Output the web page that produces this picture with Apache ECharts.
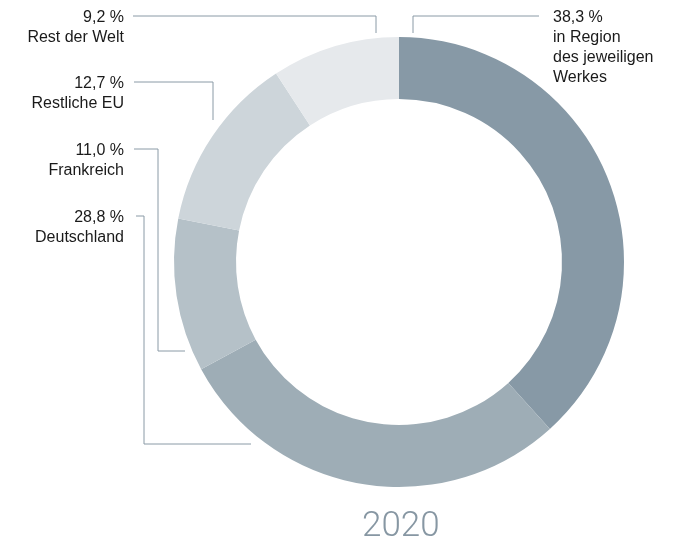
<!DOCTYPE html>
<html>
<head>
<meta charset="utf-8">
<script src="https://cdn.jsdelivr.net/npm/echarts@6/dist/echarts.min.js"></script>
<style>html,body{margin:0;padding:0;background:#fff}#c{width:679px;height:544px}</style>
</head>
<body>
<div id="c"></div>
<script>
const categories = ['in Region\ndes jeweiligen\nWerkes', 'Deutschland', 'Frankreich', 'Restliche EU', 'Rest der Welt'];
const shares = [38.3, 28.8, 11.0, 12.7, 9.2];
const yearLabel = '2020';

const colors = ['#8799a6', '#9eadb6', '#b5c1c8', '#cdd5da', '#e6e9ec'];
// label placement and leader-line routing (annotation layout)
const labelPos = [
  {x: 553, y: 8, align: 'left', line: [[539,16],[413,16],[413,33]]},
  {x: 124, y: 208, align: 'right', line: [[136,216],[144,216],[144,444],[251,444]]},
  {x: 124, y: 141, align: 'right', line: [[134,149],[158,149],[158,351],[185,351]]},
  {x: 124, y: 74, align: 'right', line: [[134,82],[213,82],[213,120]]},
  {x: 124, y: 8, align: 'right', line: [[133,16],[376,16],[376,33]]}
];

const chart = echarts.init(document.getElementById('c'));
chart.setOption({
  animation: false,
  title: {
    text: yearLabel,
    left: 357, top: 505,
    textStyle: {fontFamily: 'Roboto', fontWeight: 300, fontSize: 35, color: '#8797a3'}
  },
  series: [{
    type: 'pie',
    center: [399, 262],
    radius: [163, 225],
    startAngle: 90,
    clockwise: true,
    silent: true,
    avoidLabelOverlap: false,
    emphasis: {disabled: true},
    data: categories.map((n, i) => ({name: n, value: shares[i], itemStyle: {color: colors[i]}})),
    label: {
      show: true,
      position: 'outside',
      formatter: p => p.value.toFixed(1).replace('.', ',') + ' %\n' + p.name,
      fontFamily: 'Liberation Sans, Arial, sans-serif',
      fontSize: 16,
      lineHeight: 20,
      color: '#1a1a1a'
    },
    labelLine: {show: true, lineStyle: {color: '#8a9aa6', width: 1}},
    labelLayout: p => {
      const L = labelPos[p.dataIndex];
      return {x: L.x, y: L.y, align: L.align, verticalAlign: 'top', labelLinePoints: L.line};
    }
  }]
});
</script>
</body>
</html>
